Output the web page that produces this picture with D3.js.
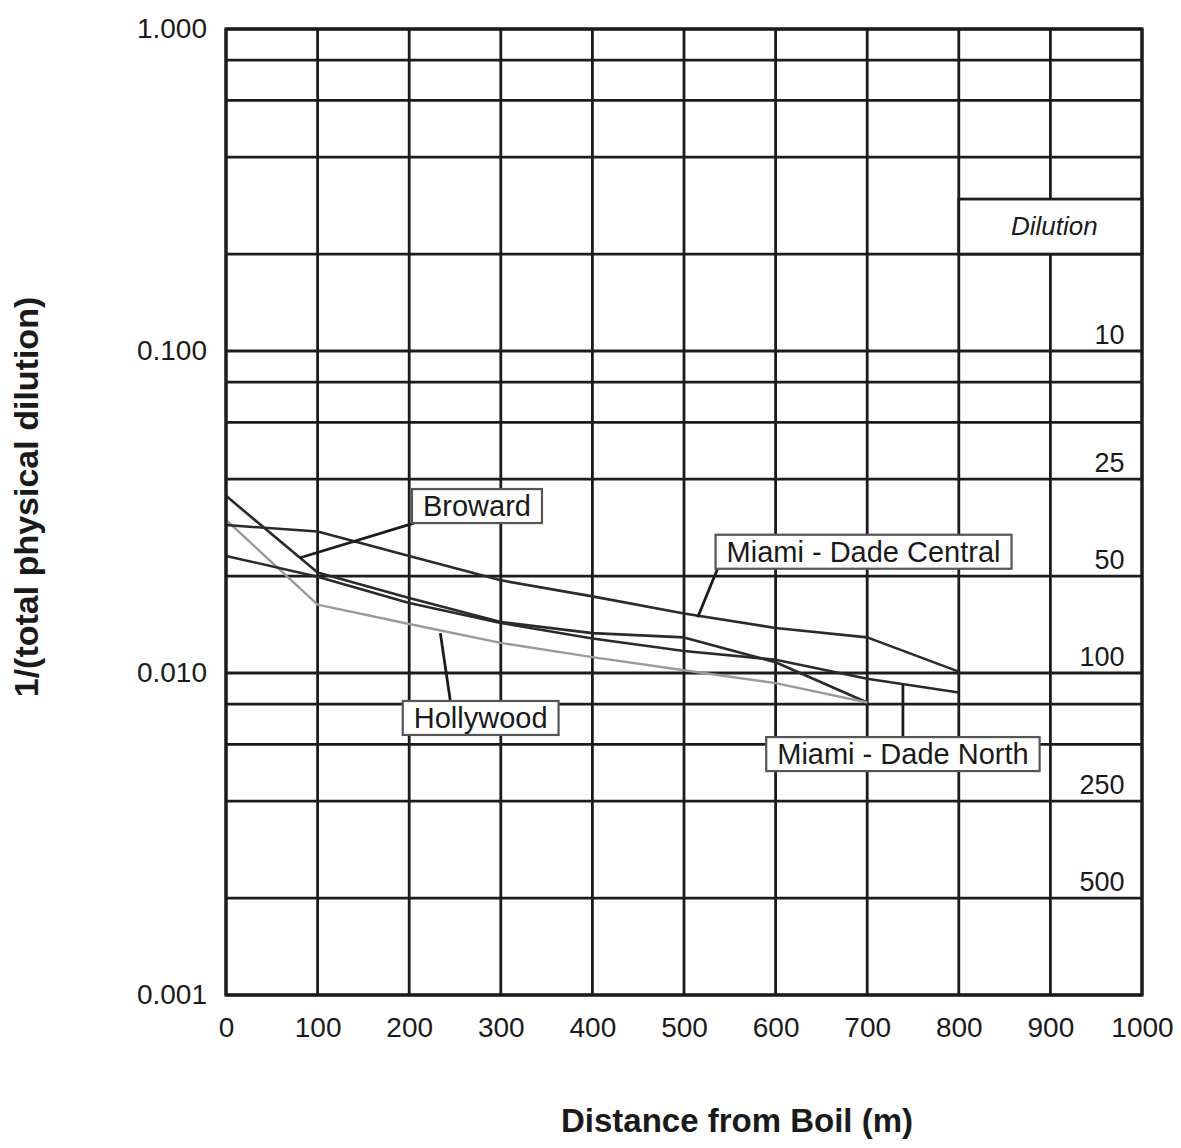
<!DOCTYPE html>
<html>
<head>
<meta charset="utf-8">
<script src="https://cdn.jsdelivr.net/npm/d3@7"></script>
<style>
  html, body { margin: 0; padding: 0; background: #fff; }
  svg { display: block; }
  text { font-family: "Liberation Sans", Arial, sans-serif; fill: #1a1a1a; }
</style>
</head>
<body>
<svg id="chart" width="1181" height="1148"></svg>
<script>
// ---------------- data ----------------
const xTicks = [0, 100, 200, 300, 400, 500, 600, 700, 800, 900, 1000];
const yTickValues = [1, 0.1, 0.01, 0.001];
const yTickLabels = ["1.000", "0.100", "0.010", "0.001"];
const yGridValues = [1, 0.8, 0.6, 0.4, 0.2, 0.1, 0.08, 0.06, 0.04, 0.02, 0.01, 0.008, 0.006, 0.004, 0.002, 0.001];
const dilutionValues = [10, 25, 50, 100, 250, 500];

const browardX = [0, 100, 200, 300, 400, 500, 600, 700];
const browardY = [0.0355, 0.0205, 0.0171, 0.0144, 0.0133, 0.0129, 0.0108, 0.0081];
const hollywoodX = [0, 100, 200, 300, 400, 500, 600, 700];
const hollywoodY = [0.0299, 0.0163, 0.0142, 0.0124, 0.0112, 0.0102, 0.0093, 0.0081];
const centralX = [0, 100, 200, 300, 400, 500, 600, 700, 800];
const centralY = [0.0288, 0.0275, 0.0231, 0.0194, 0.0173, 0.0153, 0.0138, 0.0129, 0.0101];
const northX = [0, 100, 200, 300, 400, 500, 600, 700, 800];
const northY = [0.0231, 0.0199, 0.0165, 0.0143, 0.0128, 0.0117, 0.0110, 0.0096, 0.0087];

const seriesNames = ["Broward", "Hollywood", "Miami - Dade Central", "Miami - Dade North"];

// ---------------- layout ----------------
const svg = d3.select("#chart");
const mLeft = 226, mRight = 1142, mTop = 29, mBottom = 995;
const x = d3.scaleLinear().domain([0, 1000]).range([mLeft, mRight]);
const y = d3.scaleLog().domain([0.001, 1]).range([mBottom, mTop]);

const gridColor = "#1c1c1c";
const FONT = "'Liberation Sans', Arial, sans-serif";

// grid lines
const g = svg.append("g");
g.selectAll("line.h").data(yGridValues).enter().append("line")
  .attr("x1", mLeft).attr("x2", mRight)
  .attr("y1", d => y(d)).attr("y2", d => y(d))
  .attr("stroke", gridColor).attr("stroke-width", 2.8);
g.selectAll("line.v").data(xTicks).enter().append("line")
  .attr("x1", d => x(d)).attr("x2", d => x(d))
  .attr("y1", mTop).attr("y2", mBottom)
  .attr("stroke", gridColor).attr("stroke-width", 2.8);

// Dilution header box
const boxTop = y(0.2) - 55;
g.append("rect")
  .attr("x", x(800)).attr("y", boxTop)
  .attr("width", x(1000) - x(800)).attr("height", y(0.2) - boxTop)
  .attr("fill", "#fff").attr("stroke", gridColor).attr("stroke-width", 2.8);
g.append("text")
  .attr("x", (x(800) + x(1000)) / 2 + 4).attr("y", boxTop + 36)
  .attr("text-anchor", "middle")
  .style("font-size", "26px").style("font-style", "italic")
  .text("Dilution");

// Dilution labels
g.selectAll("text.dil").data(dilutionValues).enter().append("text")
  .attr("x", x(981)).attr("y", d => y(1 / d) - 7)
  .attr("text-anchor", "end")
  .style("font-size", "27px")
  .text(d => d);

// axes tick labels
const yAxis = d3.axisLeft(y).tickValues(yTickValues)
  .tickFormat((d, i) => yTickLabels[i]).tickSize(0).tickPadding(19);
const ya = svg.append("g").attr("transform", `translate(${mLeft},0)`).call(yAxis);
ya.select(".domain").remove();
ya.selectAll("text").style("font-size", "28px").style("font-family", FONT).attr("fill", "#1a1a1a");

const xAxis = d3.axisBottom(x).tickValues(xTicks).tickFormat(d3.format("d")).tickSize(0).tickPadding(22);
const xa = svg.append("g").attr("transform", `translate(0,${mBottom})`).call(xAxis);
xa.select(".domain").remove();
xa.selectAll("text").style("font-size", "28px").style("font-family", FONT).attr("fill", "#1a1a1a");

// axis titles
svg.append("text")
  .attr("x", 737).attr("y", 1132)
  .attr("text-anchor", "middle")
  .style("font-size", "33px").style("font-weight", "bold")
  .text("Distance from Boil (m)");
svg.append("text")
  .attr("transform", `translate(38,${497}) rotate(-90)`)
  .attr("text-anchor", "middle")
  .style("font-size", "34px").style("font-weight", "bold")
  .text("1/(total physical dilution)");

// series lines
const series = [
  { name: seriesNames[0], xs: browardX, ys: browardY, color: "#2a2a2a", w: 2.6 },
  { name: seriesNames[1], xs: hollywoodX, ys: hollywoodY, color: "#9a9a9a", w: 2.4 },
  { name: seriesNames[2], xs: centralX, ys: centralY, color: "#2a2a2a", w: 2.6 },
  { name: seriesNames[3], xs: northX, ys: northY, color: "#2a2a2a", w: 2.6 }
];
const line = d3.line().x(d => x(d[0])).y(d => y(d[1]));
svg.append("g").selectAll("path").data(series).enter().append("path")
  .attr("d", s => line(s.xs.map((v, i) => [v, s.ys[i]])))
  .attr("fill", "none").attr("stroke", s => s.color).attr("stroke-width", s => s.w)
  .attr("stroke-linejoin", "round");

// labels with pointers (box centre and pointer target in data units)
const labels = [
  { text: seriesNames[0], cx: 274, cv: 0.0330, corner: "bl", tx: 81, tv: 0.0228 },
  { text: seriesNames[1], cx: 278, cv: 0.00725, corner: "tl", tx: 234, tv: 0.0133 },
  { text: seriesNames[2], cx: 696, cv: 0.0238, corner: "bl", tx: 515, tv: 0.0149 },
  { text: seriesNames[3], cx: 739, cv: 0.0056, corner: "tc", tx: 739, tv: 0.0092 }
];
const lg = svg.append("g");
labels.forEach(L => {
  const grp = lg.append("g");
  const t = grp.append("text")
    .attr("x", x(L.cx)).attr("y", y(L.cv) + 10)
    .attr("text-anchor", "middle")
    .style("font-size", "29px")
    .text(L.text);
  const bb = t.node().getBBox();
  const padX = 11, padY = 1;
  const bx = bb.x - padX, by = bb.y - padY, bw = bb.width + 2 * padX, bh = bb.height + 2 * padY;
  let sx, sy;
  if (L.corner === "bl") { sx = bx + 2; sy = by + bh; }
  else if (L.corner === "tl") { sx = x(L.tx) + 10; sy = by; }
  else { sx = x(L.tx); sy = by; }
  grp.insert("line", "text")
    .attr("x1", sx).attr("y1", sy).attr("x2", x(L.tx)).attr("y2", y(L.tv))
    .attr("stroke", "#1c1c1c").attr("stroke-width", 2.8);
  grp.insert("rect", "text")
    .attr("x", bx).attr("y", by).attr("width", bw).attr("height", bh)
    .attr("fill", "#fff").attr("stroke", "#555").attr("stroke-width", 2.2);
});

// plot border
svg.append("rect")
  .attr("x", mLeft).attr("y", mTop).attr("width", mRight - mLeft).attr("height", mBottom - mTop)
  .attr("fill", "none").attr("stroke", gridColor).attr("stroke-width", 3.2);
</script>
</body>
</html>
